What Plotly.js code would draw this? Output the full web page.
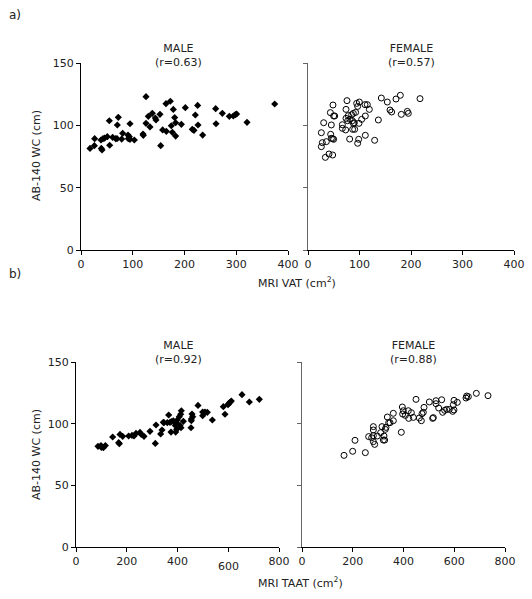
<!DOCTYPE html>
<html>
<head>
<meta charset="utf-8">
<script src="https://cdn.plot.ly/plotly-3.0.1.min.js"></script>
<style>html,body{margin:0;padding:0;background:#fff;}#chart{width:532px;height:599px;}</style>
</head>
<body>
<div id="chart"></div>
<script>
// Panel a) MRI VAT vs AB-140 WC
const maleVAT = [125.6,164.2,172.6,178.4,201.6,225.4,260.2,273.1,286.6,294.3,298.2,300.8,320.8,130.1,137.8,143.6,144.9,152.6,181.0,182.9,193.9,174.5,220.9,226.1,260.9,72.1,54.7,70.2,94.7,125.6,133.3,119.8,120.4,154.0,157.8,164.9,176.5,182.9,215.1,218.3,235.1,17.4,25.8,26.4,38.6,39.3,40.6,42.5,45.7,50.9,55.4,61.2,67.0,69.6,78.6,80.5,90.8,93.4,94.7,103.1,91.4,374.3];
const maleVAT_WC = [123.0,117.4,119.3,112.8,114.2,116.0,113.4,109.6,107.2,107.5,108.6,109.1,102.4,107.2,109.6,105.9,104.3,108.8,106.2,102.1,100.8,99.7,108.3,100.3,101.3,106.4,103.7,100.3,101.3,101.6,98.7,93.0,92.0,83.7,96.3,95.2,94.4,91.4,96.8,96.0,92.2,81.5,83.7,89.3,88.2,81.5,80.2,89.3,89.8,90.9,84.0,90.4,89.3,89.3,89.0,93.6,92.2,90.9,88.8,88.2,89.3,117.1];
const femaleVAT = [217.5,179.3,170.9,142.4,154.0,192.9,194.8,181.2,159.2,162.4,136.6,129.4,111.3,119.1,115.2,110.7,99.7,94.5,96.4,75.7,48.5,73.8,92.5,88.0,84.8,78.3,73.8,77.0,81.5,86.1,88.0,90.0,99.0,104.2,111.3,86.7,90.6,66.7,66.7,73.1,43.4,49.8,51.8,30.4,45.3,25.9,44.0,47.9,49.8,45.3,80.9,98.4,96.4,27.8,35.6,25.9,33.7,40.8,47.9];
const femaleVAT_WC = [121.4,124.1,121.1,121.9,118.7,111.2,109.6,108.8,112.3,110.7,104.3,88.0,92.0,112.8,116.6,116.6,118.7,117.6,115.2,119.8,116.3,112.8,110.4,109.6,108.5,107.8,105.6,103.7,104.8,103.7,101.6,102.1,101.6,104.8,107.5,96.8,96.8,100.5,97.6,96.3,110.2,107.5,107.5,102.1,100.3,94.1,92.8,89.3,88.8,89.6,89.0,88.8,85.6,86.1,86.9,82.9,74.3,77.0,76.2];

// Panel b) MRI TAAT vs AB-140 WC
const maleTAAT = [654.2,722.5,683.1,612.1,606.9,601.6,599.0,580.6,587.2,537.3,517.6,508.4,499.2,499.2,480.8,457.1,459.8,454.5,454.5,453.2,415.1,412.5,407.2,399.3,396.7,391.4,383.6,375.7,365.2,370.4,359.9,346.8,344.2,409.8,423.0,413.8,396.7,392.8,374.4,338.9,333.6,315.3,291.6,312.6,268.0,257.5,252.2,236.4,228.6,220.7,207.5,183.9,173.4,168.1,170.8,144.5,115.6,107.7,99.8,86.7,98.5];
const maleTAAT_WC = [123.5,119.7,117.6,118.4,117.3,116.2,115.4,113.8,107.6,103.0,109.2,109.4,109.4,106.5,114.8,107.8,105.7,103.8,102.4,96.7,110.5,107.6,105.7,103.0,100.3,98.6,102.4,101.6,107.0,101.1,100.8,100.8,101.1,98.6,101.9,96.7,95.4,93.2,93.2,94.9,91.6,98.9,93.8,84.0,89.7,91.3,92.9,92.1,90.0,90.5,90.0,89.7,91.3,84.6,83.8,89.2,82.2,80.5,80.8,81.6,82.2];
const femaleTAAT = [733.0,687.0,648.9,655.5,646.3,612.1,599.0,596.4,599.0,593.7,580.6,570.1,562.2,554.3,538.6,550.4,528.1,528.1,501.8,449.3,480.8,478.1,472.9,462.4,470.3,514.9,517.6,438.7,420.4,430.9,419.0,399.3,396.7,407.2,395.4,391.4,359.9,359.9,336.3,346.8,341.5,331.0,315.3,281.1,281.1,328.4,310.0,296.9,281.1,274.5,262.7,281.1,286.4,323.1,325.8,320.5,208.9,199.7,249.6,165.5];
const femaleTAAT_WC = [122.7,124.6,122.4,121.9,120.8,117.3,118.9,115.4,111.1,110.0,111.6,111.6,110.8,109.2,112.7,119.4,118.6,116.2,117.6,119.7,113.2,109.2,108.1,104.6,102.4,104.3,104.9,105.1,104.3,108.9,110.5,110.5,107.8,106.7,113.5,93.0,108.4,102.4,105.4,100.8,100.8,97.0,97.6,97.6,94.9,95.4,92.7,90.0,90.3,88.6,89.5,85.4,83.2,90.0,86.7,86.7,86.5,77.6,76.5,74.3];

const vatTicks = [0,100,200,300,400];
const taatTicks = [0,200,400,600,800];
const taatTickText = ["0","200","400"," ","800"];
const wcTicks = [0,50,100,150];

const W = 532, H = 599;
const px = v => v / W;
const py = v => 1 - v / H;

const font = {family: "DejaVu Sans, Verdana, sans-serif", size: 11, color: "#222"};

const maleMarker = {symbol: "diamond", size: 5.5, color: "#000"};
const femaleMarker = {symbol: "circle-open", size: 6, color: "#000", line: {width: 1, color: "#000"}};

const traces = [
  {x: maleVAT, y: maleVAT_WC, xaxis: "x", yaxis: "y", mode: "markers", type: "scatter", marker: maleMarker},
  {x: femaleVAT, y: femaleVAT_WC, xaxis: "x2", yaxis: "y2", mode: "markers", type: "scatter", marker: femaleMarker},
  {x: maleTAAT, y: maleTAAT_WC, xaxis: "x3", yaxis: "y3", mode: "markers", type: "scatter", marker: maleMarker},
  {x: femaleTAAT, y: femaleTAAT_WC, xaxis: "x4", yaxis: "y4", mode: "markers", type: "scatter", marker: femaleMarker}
];

function xax(domain, range, tv, tt, anchor) {
  return {domain: domain, range: range, anchor: anchor, tickvals: tv, ticktext: tt || tv.map(String),
    showgrid: false, zeroline: false, showline: true, linecolor: "#000", linewidth: 1,
    ticks: "outside", ticklen: 4, tickcolor: "#000", tickfont: font, fixedrange: true};
}
function yax(domain, anchor, labels, lc) {
  return {domain: domain, range: [0, 150], anchor: anchor, tickvals: wcTicks,
    showticklabels: labels, showgrid: false, zeroline: false, showline: true, linecolor: lc, linewidth: 1,
    ticks: "outside", ticklen: 4, tickcolor: lc, tickfont: font, fixedrange: true};
}

const topY = [py(250), py(63)];
const botY = [py(547), py(362)];

const layout = {
  width: W, height: H,
  margin: {l: 0, r: 0, t: 0, b: 0},
  paper_bgcolor: "#fff", plot_bgcolor: "#fff",
  showlegend: false,
  font: font,
  xaxis: xax([px(81), px(288)], [0, 400], vatTicks, null, "y"),
  yaxis: yax(topY, "x", true, "#000"),
  xaxis2: xax([px(308), px(514)], [0, 400], vatTicks, null, "y2"),
  yaxis2: yax(topY, "x2", false, "#666"),
  xaxis3: xax([px(76), px(279)], [0, 800], taatTicks, taatTickText, "y3"),
  yaxis3: yax(botY, "x3", true, "#000"),
  xaxis4: xax([px(302), px(505)], [0, 800], taatTicks, null, "y4"),
  yaxis4: yax(botY, "x4", false, "#666"),
  annotations: [
    {text: "a)", xref: "paper", yref: "paper", x: px(7), y: py(15), xanchor: "left", yanchor: "middle", showarrow: false, font: {family: font.family, size: 12, color: "#222"}},
    {text: "b)", xref: "paper", yref: "paper", x: px(7), y: py(274), xanchor: "left", yanchor: "middle", showarrow: false, font: {family: font.family, size: 12, color: "#222"}},
    {text: "MALE<br>(r=0.63)", xref: "paper", yref: "paper", x: px(178), y: py(55.5), xanchor: "center", yanchor: "middle", showarrow: false, font: font},
    {text: "FEMALE<br>(r=0.57)", xref: "paper", yref: "paper", x: px(411), y: py(55.5), xanchor: "center", yanchor: "middle", showarrow: false, font: font},
    {text: "MALE<br>(r=0.92)", xref: "paper", yref: "paper", x: px(178), y: py(352.5), xanchor: "center", yanchor: "middle", showarrow: false, font: font},
    {text: "FEMALE<br>(r=0.88)", xref: "paper", yref: "paper", x: px(413), y: py(352.5), xanchor: "center", yanchor: "middle", showarrow: false, font: font},
    {text: "AB-140 WC (cm)", xref: "paper", yref: "paper", x: px(36), y: py(156), textangle: -90, xanchor: "center", yanchor: "middle", showarrow: false, font: font},
    {text: "AB-140 WC (cm)", xref: "paper", yref: "paper", x: px(36), y: py(455), textangle: -90, xanchor: "center", yanchor: "middle", showarrow: false, font: font},
    {text: "MRI VAT (cm<sup>2</sup>)", xref: "paper", yref: "paper", x: px(297), y: py(282), xanchor: "center", yanchor: "middle", showarrow: false, font: font},
    {text: "MRI TAAT (cm<sup>2</sup>)", xref: "paper", yref: "paper", x: px(300), y: py(582), xanchor: "center", yanchor: "middle", showarrow: false, font: font},
    {text: "600", xref: "x3", yref: "paper", x: 600, y: py(566), xanchor: "center", yanchor: "middle", showarrow: false, font: font}
  ]
};

Plotly.newPlot("chart", traces, layout, {staticPlot: true, displayModeBar: false});
</script>
</body>
</html>
